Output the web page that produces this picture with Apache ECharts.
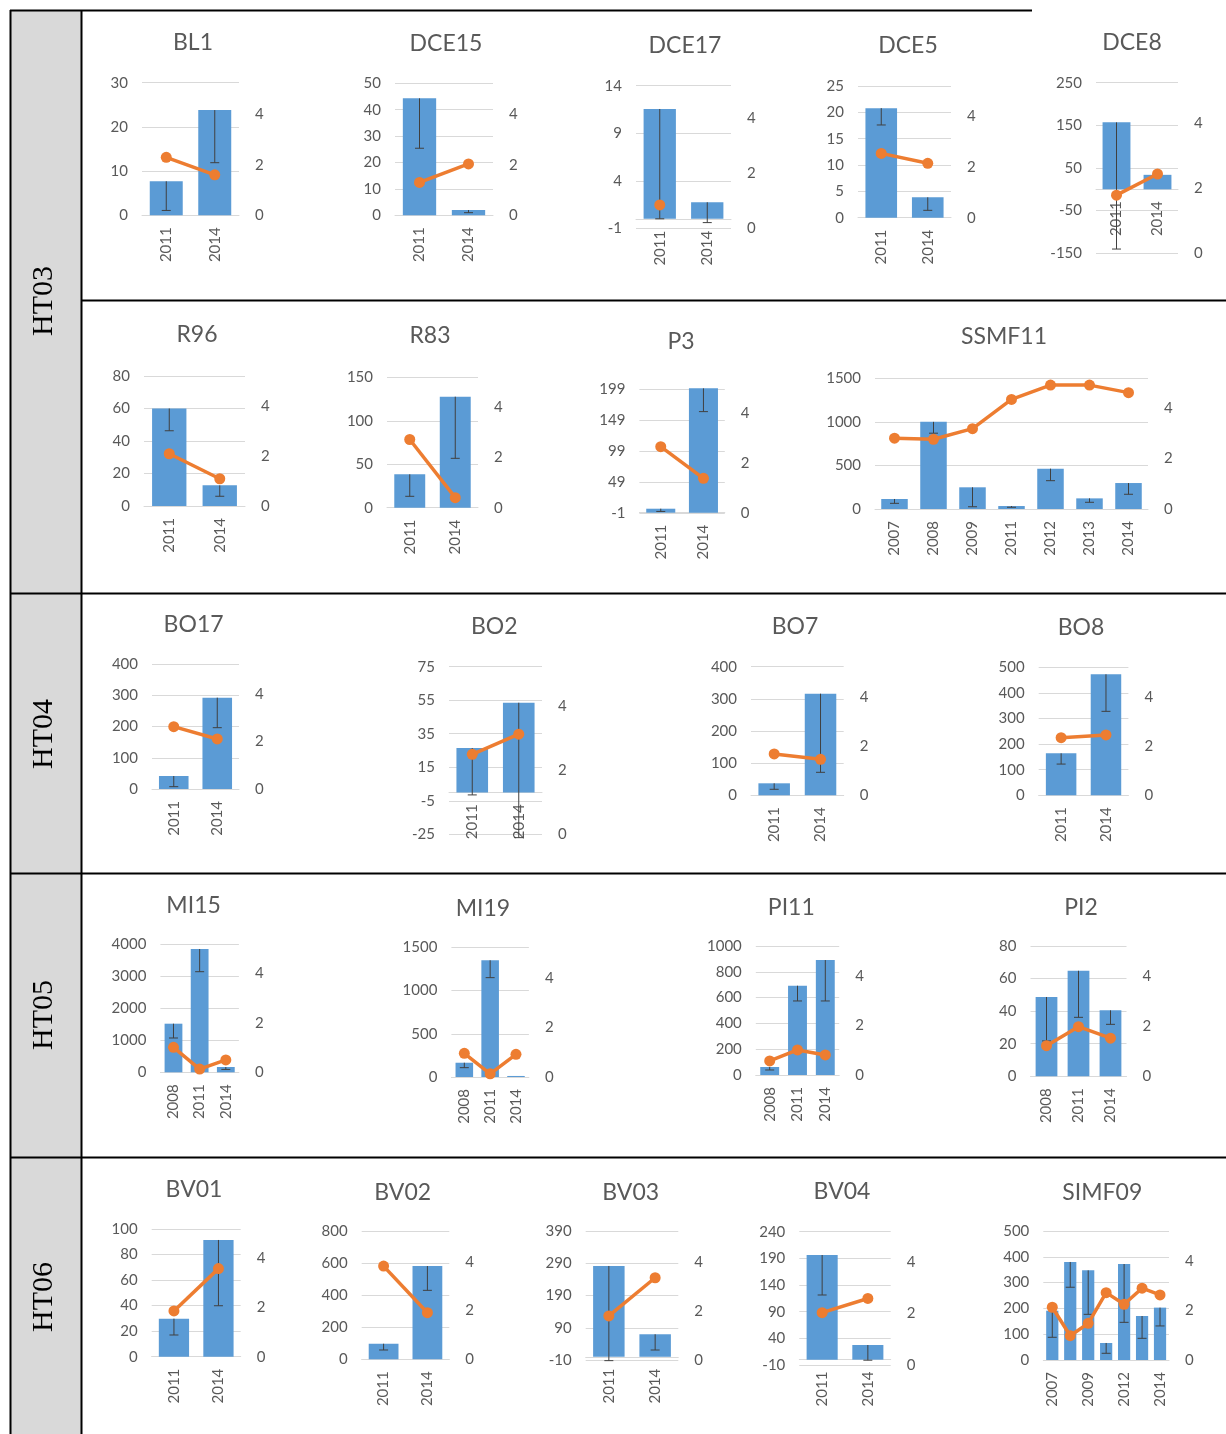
<!DOCTYPE html>
<html>
<head>
<meta charset="utf-8">
<script src="https://cdn.jsdelivr.net/npm/echarts@6/dist/echarts.min.js"></script>
<style>
  html, body { margin: 0; padding: 0; background: #ffffff; }
  #main { width: 1226px; height: 1434px; }
</style>
</head>
<body>
<div id="main"></div>
<script>
// ===== HT03 =====
const BL1_years = ['2011', '2014'];
const BL1_ticks = [0, 10, 20, 30];
const BL1_bars = [7.7, 23.8];
const BL1_errLow = [1.1, 11.9];
const BL1_line = [2.29, 1.6];
const BL1_rightMax = 5.24;

const DCE15_years = ['2011', '2014'];
const DCE15_ticks = [0, 10, 20, 30, 40, 50];
const DCE15_bars = [44.3, 2.0];
const DCE15_errLow = [25.4, 1.0];
const DCE15_line = [1.30, 2.03];
const DCE15_rightMax = 5.22;

const DCE17_years = ['2011', '2014'];
const DCE17_ticks = [-1, 4, 9, 14];
const DCE17_bars = [11.55, 1.74];
const DCE17_errLow = [0, -0.4];
const DCE17_line = [0.85, null];
const DCE17_rightMax = 5.19;

const DCE5_years = ['2011', '2014'];
const DCE5_ticks = [0, 5, 10, 15, 20, 25];
const DCE5_bars = [20.8, 3.87];
const DCE5_errLow = [17.6, 1.4];
const DCE5_line = [2.53, 2.14];
const DCE5_rightMax = 5.18;

const DCE8_years = ['2011', '2014'];
const DCE8_ticks = [-150, -50, 50, 150, 250];
const DCE8_bars = [157, 34];
const DCE8_errLow = [-140, null];
const DCE8_line = [1.79, 2.44];
const DCE8_rightMax = 5.25;

const R96_years = ['2011', '2014'];
const R96_ticks = [0, 20, 40, 60, 80];
const R96_bars = [60, 12.7];
const R96_errLow = [46.3, 6.0];
const R96_line = [2.09, 1.09];
const R96_rightMax = 5.2;

const R83_years = ['2011', '2014'];
const R83_ticks = [0, 50, 100, 150];
const R83_bars = [38.4, 127.7];
const R83_errLow = [13.1, 56.8];
const R83_line = [2.72, 0.40];
const R83_rightMax = 5.2;

const P3_years = ['2011', '2014'];
const P3_ticks = [-1, 49, 99, 149, 199];
const P3_bars = [6.4, 200.5];
const P3_errLow = [2, 163];
const P3_line = [2.65, 1.39];
const P3_rightMax = 4.93;

const SSMF11_years = ['2007', '2008', '2009', '2011', '2012', '2013', '2014'];
const SSMF11_ticks = [0, 500, 1000, 1500];
const SSMF11_bars = [115, 1000, 249, 34, 463, 122, 298];
const SSMF11_errLow = [65, 870, 26, 20, 325, 77, 169];
const SSMF11_line = [2.81, 2.77, 3.19, 4.35, 4.92, 4.92, 4.62];
const SSMF11_rightMax = 5.19;

// ===== HT04 =====
const BO17_years = ['2011', '2014'];
const BO17_ticks = [0, 100, 200, 300, 400];
const BO17_bars = [41.7, 293];
const BO17_errLow = [7.5, 196.7];
const BO17_line = [2.63, 2.11];
const BO17_rightMax = 5.26;

const BO2_years = ['2011', '2014'];
const BO2_ticks = [-25, -5, 15, 35, 55, 75];
const BO2_bars = [26.5, 53.5];
const BO2_errLow = [-1.5, -27];
const BO2_line = [2.49, 3.12];
const BO2_rightMax = 5.22;

const BO7_years = ['2011', '2014'];
const BO7_ticks = [0, 100, 200, 300, 400];
const BO7_bars = [37.3, 316];
const BO7_errLow = [18.7, 71.5];
const BO7_line = [1.68, 1.46];
const BO7_rightMax = 5.22;

const BO8_years = ['2011', '2014'];
const BO8_ticks = [0, 100, 200, 300, 400, 500];
const BO8_bars = [164, 472.7];
const BO8_errLow = [122, 328];
const BO8_line = [2.35, 2.46];
const BO8_rightMax = 5.22;

// ===== HT05 =====
const MI15_years = ['2008', '2011', '2014'];
const MI15_ticks = [0, 1000, 2000, 3000, 4000];
const MI15_bars = [1519, 3853, 166];
const MI15_errLow = [1072, 3144, 90];
const MI15_line = [1.01, 0.13, 0.50];
const MI15_rightMax = 5.17;

const MI19_years = ['2008', '2011', '2014'];
const MI19_ticks = [0, 500, 1000, 1500];
const MI19_bars = [165, 1350, 12];
const MI19_errLow = [108, 1149, null];
const MI19_line = [0.955, 0.13, 0.915];
const MI19_rightMax = 5.23;

const PI11_years = ['2008', '2011', '2014'];
const PI11_ticks = [0, 200, 400, 600, 800, 1000];
const PI11_bars = [62, 692, 891];
const PI11_errLow = [39, 574, 574];
const PI11_line = [0.565, 1.01, 0.81];
const PI11_rightMax = 5.2;

const PI2_years = ['2008', '2011', '2014'];
const PI2_ticks = [0, 20, 40, 60, 80];
const PI2_bars = [48.7, 64.8, 40.5];
const PI2_errLow = [21.7, 36.2, 31.9];
const PI2_line = [1.23, 1.99, 1.53];
const PI2_rightMax = 5.23;

// ===== HT06 =====
const BV01_years = ['2011', '2014'];
const BV01_ticks = [0, 20, 40, 60, 80, 100];
const BV01_bars = [29.8, 91.4];
const BV01_errLow = [17, 39.9];
const BV01_line = [1.86, 3.58];
const BV01_rightMax = 5.19;

const BV02_years = ['2011', '2014'];
const BV02_ticks = [0, 200, 400, 600, 800];
const BV02_bars = [97, 581.7];
const BV02_errLow = [58, 430];
const BV02_line = [3.82, 1.91];
const BV02_rightMax = 5.26;

const BV03_years = ['2011', '2014'];
const BV03_ticks = [-10, 90, 190, 290, 390];
const BV03_bars = [281.6, 69.8];
const BV03_errLow = [-12, 21];
const BV03_line = [1.80, 3.36];
const BV03_rightMax = 5.27;

const BV04_years = ['2011', '2014'];
const BV04_ticks = [-10, 40, 90, 140, 190, 240];
const BV04_bars = [196.3, 27.5];
const BV04_errLow = [121.3, -1];
const BV04_line = [2.03, 2.58];
const BV04_rightMax = 5.17;

const SIMF09_years = ['2007', '2008', '2009', '2011', '2012', '2013', '2014'];
const SIMF09_ticks = [0, 100, 200, 300, 400, 500];
const SIMF09_bars = [191, 380, 347.5, 66, 372, 170.5, 203];
const SIMF09_errLow = [88, 282, 177, 26, 146, 84, 132];
const SIMF09_line = [2.13, 0.98, 1.48, 2.72, 2.25, 2.90, 2.63];
const SIMF09_rightMax = 5.21;

const groupLabels = ['HT03', 'HT04', 'HT05', 'HT06'];

// panel registry built from the arrays above
const panels = [
  ['BL1', BL1_years, BL1_ticks, BL1_bars, BL1_errLow, BL1_line, BL1_rightMax],
  ['DCE15', DCE15_years, DCE15_ticks, DCE15_bars, DCE15_errLow, DCE15_line, DCE15_rightMax],
  ['DCE17', DCE17_years, DCE17_ticks, DCE17_bars, DCE17_errLow, DCE17_line, DCE17_rightMax],
  ['DCE5', DCE5_years, DCE5_ticks, DCE5_bars, DCE5_errLow, DCE5_line, DCE5_rightMax],
  ['DCE8', DCE8_years, DCE8_ticks, DCE8_bars, DCE8_errLow, DCE8_line, DCE8_rightMax],
  ['R96', R96_years, R96_ticks, R96_bars, R96_errLow, R96_line, R96_rightMax],
  ['R83', R83_years, R83_ticks, R83_bars, R83_errLow, R83_line, R83_rightMax],
  ['P3', P3_years, P3_ticks, P3_bars, P3_errLow, P3_line, P3_rightMax],
  ['SSMF11', SSMF11_years, SSMF11_ticks, SSMF11_bars, SSMF11_errLow, SSMF11_line, SSMF11_rightMax],
  ['BO17', BO17_years, BO17_ticks, BO17_bars, BO17_errLow, BO17_line, BO17_rightMax],
  ['BO2', BO2_years, BO2_ticks, BO2_bars, BO2_errLow, BO2_line, BO2_rightMax],
  ['BO7', BO7_years, BO7_ticks, BO7_bars, BO7_errLow, BO7_line, BO7_rightMax],
  ['BO8', BO8_years, BO8_ticks, BO8_bars, BO8_errLow, BO8_line, BO8_rightMax],
  ['MI15', MI15_years, MI15_ticks, MI15_bars, MI15_errLow, MI15_line, MI15_rightMax],
  ['MI19', MI19_years, MI19_ticks, MI19_bars, MI19_errLow, MI19_line, MI19_rightMax],
  ['PI11', PI11_years, PI11_ticks, PI11_bars, PI11_errLow, PI11_line, PI11_rightMax],
  ['PI2', PI2_years, PI2_ticks, PI2_bars, PI2_errLow, PI2_line, PI2_rightMax],
  ['BV01', BV01_years, BV01_ticks, BV01_bars, BV01_errLow, BV01_line, BV01_rightMax],
  ['BV02', BV02_years, BV02_ticks, BV02_bars, BV02_errLow, BV02_line, BV02_rightMax],
  ['BV03', BV03_years, BV03_ticks, BV03_bars, BV03_errLow, BV03_line, BV03_rightMax],
  ['BV04', BV04_years, BV04_ticks, BV04_bars, BV04_errLow, BV04_line, BV04_rightMax],
  ['SIMF09', SIMF09_years, SIMF09_ticks, SIMF09_bars, SIMF09_errLow, SIMF09_line, SIMF09_rightMax]
];

// plot boxes in page pixels: [left, right, top, bottom, titleX, titleY, labelSkip]
const boxes = {
  BL1:    [142, 239, 82.7, 215.3, 193, 43, 0],
  DCE15:  [395, 493, 83.3, 215.3, 446, 44, 0],
  DCE17:  [636, 731, 85.7, 228.3, 685, 46, 0],
  DCE5:   [858, 951, 86, 217.7, 908, 46, 0],
  DCE8:   [1096, 1178, 82.7, 253.3, 1132, 43, 0],
  R96:    [144, 245, 376, 506, 197, 335, 0],
  R83:    [387, 478, 377.3, 507.7, 430, 336, 0],
  P3:     [639.4, 724.8, 389.3, 513.3, 681, 341.7, 0],
  SSMF11: [875, 1148, 378.3, 509, 1004, 337, 0],
  BO17:   [152, 239, 664.3, 789, 193.6, 625, 0],
  BO2:    [449, 542, 666.7, 834.3, 494.3, 627, 0],
  BO7:    [751, 843.7, 666.7, 795.3, 795, 627, 0],
  BO8:    [1038.7, 1128.4, 667.3, 795.3, 1081, 628, 0],
  MI15:   [160.4, 238.9, 944.3, 1072.3, 193.6, 905.7, 0],
  MI19:   [451.4, 528.9, 947.3, 1077, 482.9, 908.3, 0],
  PI11:   [755.8, 839.2, 946, 1075, 791.3, 907.7, 0],
  PI2:    [1030.5, 1126.5, 946, 1076.3, 1081, 907.3, 0],
  BV01:   [151.7, 240.7, 1229, 1356.7, 194, 1190, 0],
  BV02:   [361.7, 449.3, 1231, 1359.3, 402.7, 1192.3, 0],
  BV03:   [585.7, 678.3, 1231, 1360, 630.7, 1192.3, 0],
  BV04:   [799.3, 890.7, 1231.7, 1365, 842, 1192, 0],
  SIMF09: [1043.3, 1169, 1231, 1360, 1102.3, 1192.3, 1]
};

// group label centres (x, y) in the grey column
const groupLabelPos = [[44, 301], [44, 734], [44, 1015], [44, 1297]];

const GRID_C = '#d9d9d9';
const TEXT_C = '#595959';
const BAR_C = '#5b9bd5';
const LINE_C = '#ed7d31';
const ERR_C = '#404040';
const FONT = 'Lato, "Open Sans", sans-serif';

const chart = echarts.init(document.getElementById('main'), null, { renderer: 'canvas', width: 1226, height: 1434 });

// minus-direction error bar with an end cap
function renderErr(params, api) {
  const top = api.coord([api.value(0), api.value(1)]);
  const low = api.coord([api.value(0), api.value(2)]);
  const half = 4.5;
  return {
    type: 'group',
    children: [
      { type: 'line', shape: { x1: top[0], y1: top[1], x2: low[0], y2: low[1] }, style: { stroke: ERR_C, lineWidth: 1 } },
      { type: 'line', shape: { x1: low[0] - half, y1: low[1], x2: low[0] + half, y2: low[1] }, style: { stroke: ERR_C, lineWidth: 1 } }
    ]
  };
}

const grids = [], xAxes = [], yAxes = [], series = [], graphics = [];

// table: grey label column and black rules
graphics.push({ type: 'rect', shape: { x: 10, y: 10, width: 72, height: 1424 }, style: { fill: '#d9d9d9' }, z: 0 });
const rules = [
  [10.5, 10, 10.5, 1434],
  [81.5, 10, 81.5, 1434],
  [10, 10.5, 1032, 10.5],
  [82, 300.5, 1226, 300.5],
  [10, 593.5, 1226, 593.5],
  [10, 873.5, 1226, 873.5],
  [10, 1157.5, 1226, 1157.5]
];
rules.forEach(r => graphics.push({
  type: 'line', shape: { x1: r[0], y1: r[1], x2: r[2], y2: r[3] },
  style: { stroke: '#000000', lineWidth: 2 }, z: 1
}));
groupLabels.forEach((t, k) => graphics.push({
  type: 'text', x: groupLabelPos[k][0], y: groupLabelPos[k][1], rotation: Math.PI / 2,
  style: {
    text: t, fill: '#000000', font: '30px "Liberation Serif", serif',
    align: 'center', verticalAlign: 'middle', textAlign: 'center', textVerticalAlign: 'middle'
  }, z: 2
}));

panels.forEach((p, i) => {
  const [name, years, ticks, bars, errLow, line, rightMax] = p;
  const b = boxes[name];
  const yMin = ticks[0], yMax = ticks[ticks.length - 1];
  const plotH = b[3] - b[2];
  grids.push({ left: b[0], top: b[2], width: b[1] - b[0], height: plotH, containLabel: false, outerBoundsMode: 'none' });

  // category axis crosses the value axis at zero: lift it by the zero's distance from the bottom
  const zeroLift = yMin < 0 ? (0 - yMin) / (yMax - yMin) * plotH : 0;

  xAxes.push({
    type: 'category', gridIndex: i, data: years, boundaryGap: true, position: 'bottom',
    offset: -zeroLift,
    axisLine: { show: true, onZero: false, lineStyle: { color: GRID_C, width: 1 } },
    axisTick: { show: false },
    splitLine: { show: false },
    axisLabel: { rotate: 90, interval: b[6], margin: 12, color: TEXT_C, fontSize: 15, fontFamily: FONT }
  });

  yAxes.push({
    type: 'value', gridIndex: i, position: 'left',
    min: yMin, max: yMax, interval: ticks[1] - ticks[0],
    axisLine: { show: false }, axisTick: { show: false },
    splitLine: { show: true, lineStyle: { color: GRID_C, width: 1 } },
    axisLabel: { margin: 14, color: TEXT_C, fontSize: 15, fontFamily: FONT, formatter: v => String(v) }
  });
  yAxes.push({
    type: 'value', gridIndex: i, position: 'right',
    min: 0, max: rightMax, interval: 2,
    axisLine: { show: false }, axisTick: { show: false }, splitLine: { show: false },
    axisLabel: {
      margin: 16, color: TEXT_C, fontSize: 15, fontFamily: FONT, showMaxLabel: false,
      formatter: v => (Math.abs(v % 2) < 1e-9 ? String(v) : '')
    }
  });

  series.push({
    type: 'bar', xAxisIndex: i, yAxisIndex: 2 * i, data: bars,
    barCategoryGap: '32%', itemStyle: { color: BAR_C }, clip: false, z: 2, silent: true
  });
  const errData = [];
  errLow.forEach((lo, k) => { if (lo != null) errData.push([k, bars[k], lo]); });
  series.push({
    type: 'custom', xAxisIndex: i, yAxisIndex: 2 * i, data: errData,
    encode: { x: 0, y: 1 }, renderItem: renderErr, clip: false, z: 3, silent: true
  });
  series.push({
    type: 'line', xAxisIndex: i, yAxisIndex: 2 * i + 1, data: line,
    symbol: 'circle', symbolSize: 11, connectNulls: false,
    lineStyle: { color: LINE_C, width: 3.5 }, itemStyle: { color: LINE_C },
    z: 4, silent: true
  });

  graphics.push({
    type: 'text', x: b[4], y: b[5],
    style: {
      text: name, fill: TEXT_C, font: '23px ' + FONT,
      align: 'center', verticalAlign: 'middle', textAlign: 'center', textVerticalAlign: 'middle'
    }, z: 5
  });
});

chart.setOption({
  animation: false,
  backgroundColor: '#ffffff',
  grid: grids,
  xAxis: xAxes,
  yAxis: yAxes,
  series: series,
  graphic: graphics
});
</script>
</body>
</html>
